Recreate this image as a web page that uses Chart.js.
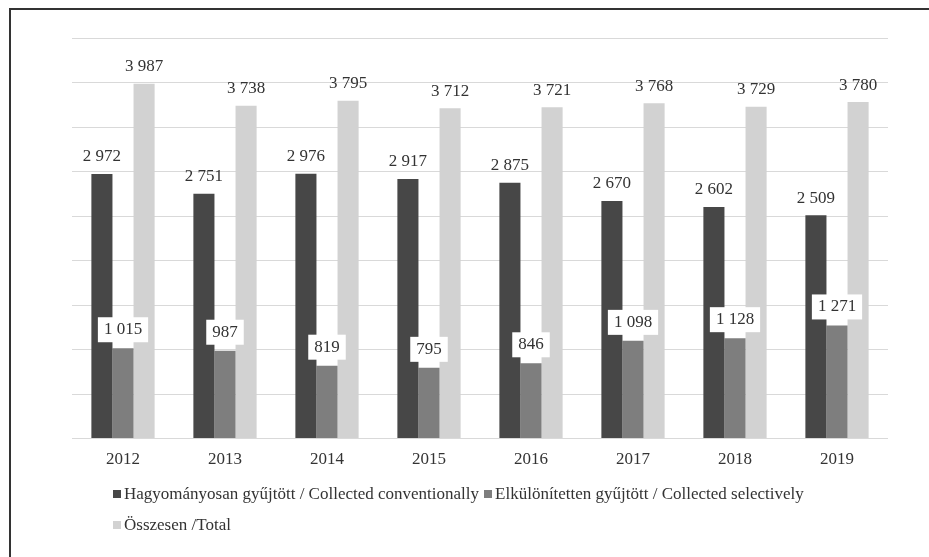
<!DOCTYPE html>
<html>
<head>
<meta charset="utf-8">
<script src="https://cdn.jsdelivr.net/npm/chart.js@4.4.0/dist/chart.umd.min.js"></script>
<style>
  html, body { margin: 0; padding: 0; background: #fff; }
  #wrap { position: relative; width: 929px; height: 557px; overflow: hidden; }
  #frame { position: absolute; left: 9px; top: 8px; right: -10px; bottom: -10px;
           border-top: 2px solid #333; border-left: 2px solid #333; }
  canvas { position: absolute; left: 0; top: 0; }
  #legend { position: absolute; left: 113px; top: 478px; width: 730px;
            display: flex; flex-wrap: wrap;
            font-family: "Liberation Serif", "Times New Roman", serif; font-size: 17px; color: #333; }
  .item { display: flex; align-items: center; height: 31px; margin-right: 5px; white-space: nowrap; }
  .swatch { width: 8px; height: 8px; margin-right: 3px; }
</style>
</head>
<body>
<div id="wrap">
  <div id="frame"></div>
  <canvas id="wasteChart" width="929" height="557"></canvas>
  <div id="legend"></div>
</div>
<script>
const years = ['2012', '2013', '2014', '2015', '2016', '2017', '2018', '2019'];
const conventional = [2972, 2751, 2976, 2917, 2875, 2670, 2602, 2509];
const selective = [1015, 987, 819, 795, 846, 1098, 1128, 1271];
const total = [3987, 3738, 3795, 3712, 3721, 3768, 3729, 3780];

const seriesNames = [
    'Hagyományosan gyűjtött / Collected conventionally',
    'Elkülönítetten gyűjtött / Collected selectively',
    'Összesen /Total'
];
const seriesColors = ['#474747', '#7e7e7e', '#d2d2d2'];

const serif = '"Liberation Serif", "Times New Roman", serif';
const textColor = '#333';

// 2972 -> "2 972"
function fmt(v) {
    return String(v).replace(/\B(?=(\d{3})+(?!\d))/g, ' ');
}

// value labels above each bar; the selective series gets a white box
const valueLabels = {
    id: 'valueLabels',
    afterDatasetsDraw(chart) {
        const ctx = chart.ctx;
        ctx.save();
        ctx.font = '17px ' + serif;
        ctx.textAlign = 'center';
        ctx.textBaseline = 'middle';
        chart.data.datasets.forEach((ds, i) => {
            const meta = chart.getDatasetMeta(i);
            meta.data.forEach((bar, j) => {
                const text = fmt(ds.data[j]);
                if (ds.boxed) {
                    const w = ctx.measureText(text).width + 12;
                    const cy = bar.y - 18.5;
                    ctx.fillStyle = '#fff';
                    ctx.fillRect(bar.x - w / 2, cy - 12.5, w, 25);
                    ctx.fillStyle = textColor;
                    ctx.fillText(text, bar.x, cy);
                } else {
                    ctx.fillStyle = textColor;
                    ctx.fillText(text, bar.x, bar.y - 17);
                }
            });
        });
        ctx.restore();
    }
};

const ctx = document.getElementById('wasteChart').getContext('2d');
const chart = new Chart(ctx, {
    type: 'bar',
    data: {
        labels: years,
        datasets: [
            { label: seriesNames[0], data: conventional, backgroundColor: seriesColors[0] },
            { label: seriesNames[1], data: selective, backgroundColor: seriesColors[1], boxed: true },
            { label: seriesNames[2], data: total, backgroundColor: seriesColors[2] }
        ]
    },
    options: {
        responsive: false,
        animation: false,
        categoryPercentage: 0.62,
        barPercentage: 1.0,
        layout: { padding: { left: 72, right: 41, top: 38, bottom: 84 } },
        plugins: {
            legend: { display: false },
            tooltip: { enabled: false }
        },
        scales: {
            x: {
                grid: { display: false },
                border: { display: false },
                ticks: { color: textColor, font: { family: serif, size: 17 }, padding: 3 }
            },
            y: {
                min: 0,
                max: 4500,
                ticks: { display: false, stepSize: 500 },
                grid: { color: '#d9d9d9', lineWidth: 1, drawTicks: false },
                border: { display: false }
            }
        }
    },
    plugins: [valueLabels]
});

// legend built from the datasets
const legendEl = document.getElementById('legend');
chart.data.datasets.forEach(ds => {
    const item = document.createElement('div');
    item.className = 'item';
    const sw = document.createElement('span');
    sw.className = 'swatch';
    sw.style.background = ds.backgroundColor;
    const label = document.createElement('span');
    label.textContent = ds.label;
    item.appendChild(sw);
    item.appendChild(label);
    legendEl.appendChild(item);
});
</script>
</body>
</html>
